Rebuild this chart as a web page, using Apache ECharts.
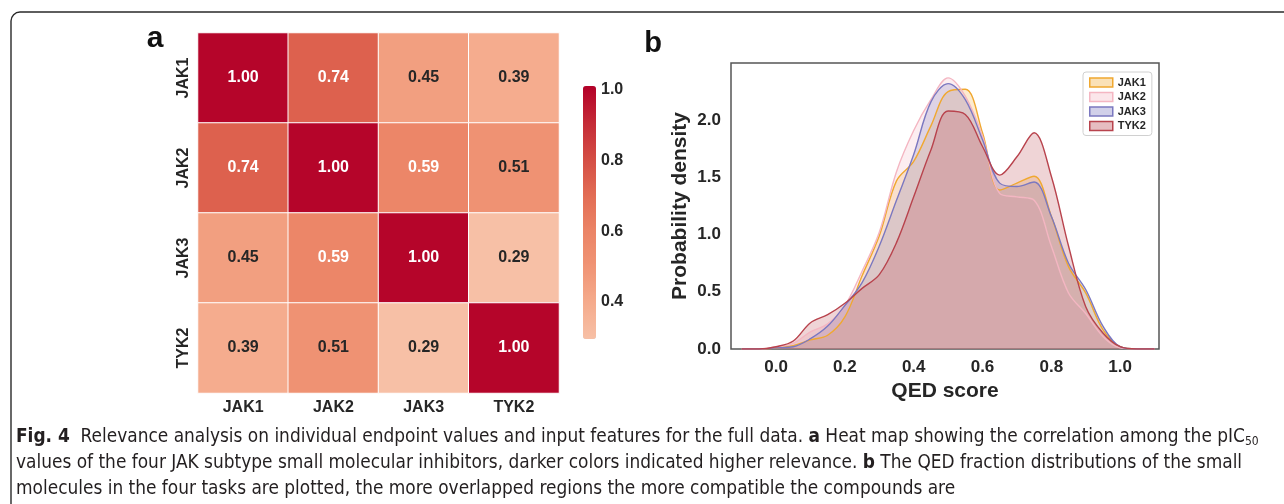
<!DOCTYPE html>
<html><head><meta charset="utf-8">
<script src="https://cdn.jsdelivr.net/npm/echarts@6/dist/echarts.min.js"></script>
<style>html,body{margin:0;padding:0;background:#fff}#c{width:1284px;height:504px}</style>
</head><body><div id="c"></div>
<script>
// ---- data ----
const targets = ['JAK1', 'JAK2', 'JAK3', 'TYK2'];
const corrJAK1 = [1.00, 0.74, 0.45, 0.39];
const corrJAK2 = [0.74, 1.00, 0.59, 0.51];
const corrJAK3 = [0.45, 0.59, 1.00, 0.29];
const corrTYK2 = [0.39, 0.51, 0.29, 1.00];
const colorbarMin = 0.295, colorbarMax = 1.011;
const colorbarTicks = [0.4, 0.6, 0.8, 1.0];

const qedX = [-0.10,-0.05,0.00,0.05,0.10,0.15,0.20,0.25,0.30,0.35,0.40,0.45,0.50,0.55,0.60,0.65,0.70,0.75,0.80,0.85,0.90,0.95,1.00,1.05,1.10];
const densJAK1 = [0,0,0.01,0.03,0.08,0.12,0.28,0.64,0.99,1.47,1.64,1.95,2.25,2.27,1.89,1.39,1.45,1.51,1.16,0.72,0.49,0.17,0.02,0,0];
const densJAK2 = [0,0,0.02,0.05,0.15,0.22,0.38,0.68,1.02,1.55,1.91,2.18,2.37,2.21,1.86,1.36,1.33,1.30,0.90,0.49,0.31,0.11,0.01,0,0];
const densJAK3 = [0,0,0.01,0.02,0.09,0.20,0.38,0.58,0.90,1.30,1.70,2.16,2.32,2.18,1.83,1.45,1.42,1.46,1.16,0.75,0.52,0.20,0.02,0,0];
const densTYK2 = [0,0,0.02,0.07,0.23,0.30,0.40,0.53,0.65,0.93,1.33,1.74,2.08,2.05,1.77,1.52,1.68,1.89,1.51,0.90,0.37,0.14,0.02,0,0];
const qedTicks = [0, 0.2, 0.4, 0.6, 0.8, 1.0];
const densityTicks = [0, 0.5, 1.0, 1.5, 2.0];

// ---- build ----
const corrRows = [corrJAK1, corrJAK2, corrJAK3, corrTYK2];
const heatData = [];
corrRows.forEach((row, i) => row.forEach((v, j) => {
  heatData.push({ value: [j, i, v], label: { color: v >= 0.55 ? '#ffffff' : '#262626' } });
}));
const densSeries = [
  { name: 'JAK1', vals: densJAK1, color: '#f0a830' },
  { name: 'JAK2', vals: densJAK2, color: '#f4b6c2' },
  { name: 'JAK3', vals: densJAK3, color: '#7b78c0' },
  { name: 'TYK2', vals: densTYK2, color: '#b8434d' }
];
function hexA(hex, a) {
  const n = parseInt(hex.slice(1), 16);
  return 'rgba(' + (n >> 16) + ',' + ((n >> 8) & 255) + ',' + (n & 255) + ',' + a + ')';
}
const FONT = 'Liberation Sans, Arial, sans-serif';
const CAPFONT = '"DejaVu Sans Condensed", "Liberation Sans Narrow", sans-serif';
const TXT = '#262626';

const chart = echarts.init(document.getElementById('c'), null, { renderer: 'canvas' });
const option = {
  animation: false,
  textStyle: { fontFamily: FONT },
  grid: [
    { left: 198, top: 33, width: 361, height: 360 },
    { left: 731, top: 63, width: 428, height: 286, show: true, borderColor: '#555', borderWidth: 1.5, backgroundColor: 'transparent' },
    { left: 583, top: 86, width: 13, height: 253 }
  ],
  xAxis: [
    { type: 'category', gridIndex: 0, data: targets, axisLine: { show: false }, axisTick: { show: false },
      axisLabel: { fontWeight: 'bold', fontSize: 16, color: TXT, margin: 7 }, splitLine: { show: false } },
    { type: 'value', gridIndex: 1, min: -0.131, max: 1.113, axisLine: { show: false }, axisTick: { show: false }, splitLine: { show: false },
      axisLabel: { customValues: qedTicks, formatter: v => v.toFixed(1), fontWeight: 'bold', fontSize: 17, color: TXT, margin: 10 },
      name: 'QED score', nameLocation: 'middle', nameGap: 30, nameTextStyle: { fontWeight: 'bold', fontSize: 21, color: TXT } },
    { type: 'value', gridIndex: 2, show: false, min: 0, max: 1 }
  ],
  yAxis: [
    { type: 'category', gridIndex: 0, data: targets, inverse: true, axisLine: { show: false }, axisTick: { show: false },
      axisLabel: { fontWeight: 'bold', fontSize: 16, color: TXT, rotate: 90, margin: 6 }, splitLine: { show: false } },
    { type: 'value', gridIndex: 1, min: 0, max: 2.5, axisLine: { show: false }, axisTick: { show: false }, splitLine: { show: false },
      axisLabel: { customValues: densityTicks, formatter: v => v.toFixed(1), fontWeight: 'bold', fontSize: 17, color: TXT, margin: 10 },
      name: 'Probability density', nameLocation: 'middle', nameGap: 40, nameTextStyle: { fontWeight: 'bold', fontSize: 21, color: TXT } },
    { type: 'value', gridIndex: 2, position: 'right', min: colorbarMin, max: colorbarMax, axisLine: { show: false }, axisTick: { show: false }, splitLine: { show: false },
      axisLabel: { customValues: colorbarTicks, formatter: v => v.toFixed(1), fontWeight: 'bold', fontSize: 16, color: TXT, margin: 5 } }
  ],
  visualMap: {
    type: 'continuous', seriesIndex: 0, dimension: 2, min: colorbarMin, max: colorbarMax,
    left: 583, top: 86, itemWidth: 13, itemHeight: 253, padding: 0, calculable: false, hoverLink: false,
    inRange: { color: ['#f7c0a6', '#f5ab8c', '#f09475', '#eb8466', '#e26c54', '#d44d44', '#c42a36', '#b30028'] }
  },
  legend: {
    orient: 'vertical', left: 1083, top: 72, padding: [5, 6, 4, 6], itemGap: 3.5, itemWidth: 23, itemHeight: 9,
    icon: 'rect', backgroundColor: '#fff', borderColor: '#d0d0d0', borderWidth: 1, borderRadius: 3,
    textStyle: { fontWeight: 'bold', fontSize: 11, color: TXT, fontFamily: FONT },
    data: densSeries.map(s => ({ name: s.name, itemStyle: { color: hexA(s.color, 0.35), borderColor: s.color, borderWidth: 1.5 } }))
  },
  series: [
    { type: 'heatmap', xAxisIndex: 0, yAxisIndex: 0, data: heatData,
      itemStyle: { borderColor: '#ffffff', borderWidth: 1 },
      label: { show: true, formatter: p => p.value[2].toFixed(2), fontWeight: 'bold', fontSize: 16, fontFamily: FONT },
      emphasis: { disabled: true } }
  ].concat(densSeries.map(s => ({
    type: 'line', name: s.name, xAxisIndex: 1, yAxisIndex: 1,
    data: qedX.map((x, i) => [x, s.vals[i]]),
    smooth: 0.35, showSymbol: false, symbol: 'none',
    lineStyle: { color: s.color, width: 1.4 }, itemStyle: { color: s.color },
    areaStyle: { color: hexA(s.color, 0.33) }, emphasis: { disabled: true }
  }))),
  graphic: [
    { type: 'rect', shape: { x: 11, y: 12, width: 1300, height: 520, r: 9 }, style: { fill: 'none', stroke: '#2a2a2a', lineWidth: 1.4 }, silent: true },
    { type: 'text', x: 155, y: 39, style: { text: 'a', fontSize: 30, fontWeight: 'bold', fontFamily: FONT, fill: '#111', align: 'center', verticalAlign: 'middle' } },
    { type: 'text', x: 653, y: 44, style: { text: 'b', fontSize: 29, fontWeight: 'bold', fontFamily: FONT, fill: '#111', align: 'center', verticalAlign: 'middle' } },
    { type: 'text', x: 16, y: 424, style: {
        text: '{b|Fig. 4}  Relevance analysis on individual endpoint values and input features for the full data. {b|a} Heat map showing the correlation among the pIC{s|50}\n' +
              'values of the four JAK subtype small molecular inhibitors, darker colors indicated higher relevance. {b|b} The QED fraction distributions of the small\n' +
              'molecules in the four tasks are plotted, the more overlapped regions the more compatible the compounds are',
        fontFamily: CAPFONT, fontSize: 18.9, fill: '#231f20', lineHeight: 26,
        rich: {
          b: { fontWeight: 'bold', fontFamily: CAPFONT, fontSize: 18.9, fill: '#231f20', lineHeight: 26 },
          s: { fontSize: 12, fontFamily: CAPFONT, fill: '#231f20', lineHeight: 26, padding: [10, 0, 0, 0] }
        }
      } }
  ]
};
chart.setOption(option);
</script></body></html>
